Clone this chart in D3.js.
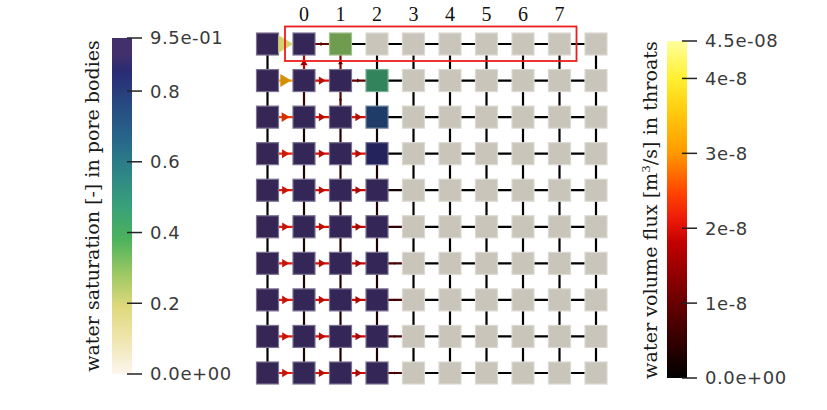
<!DOCTYPE html>
<html>
<head>
<meta charset="utf-8">
<script src="https://cdn.jsdelivr.net/npm/d3@7"></script>
<style>
  body { margin: 0; background: #fff; }
  svg { display: block; }
</style>
</head>
<body>
<svg id="chart" width="827" height="410"></svg>
<script>
/* column labels above the grid (start at column 1) */
var colLabels = ['0', '1', '2', '3', '4', '5', '6', '7'];

/* water saturation in pore bodies, null = not reached */
var saturation = [
    [0.95, 0.90, 0.305, null, null, null, null, null, null, null],
    [0.95, 0.90, 0.90, 0.45, null, null, null, null, null, null],
    [0.95, 0.90, 0.90, 0.76, null, null, null, null, null, null],
    [0.95, 0.90, 0.90, 0.86, null, null, null, null, null, null],
    [0.95, 0.90, 0.90, 0.90, null, null, null, null, null, null],
    [0.95, 0.90, 0.90, 0.90, null, null, null, null, null, null],
    [0.95, 0.90, 0.90, 0.90, null, null, null, null, null, null],
    [0.95, 0.90, 0.90, 0.90, null, null, null, null, null, null],
    [0.95, 0.90, 0.90, 0.90, null, null, null, null, null, null],
    [0.95, 0.90, 0.90, 0.90, null, null, null, null, null, null]
];

/* horizontal throat flux [1e-8 m3/s], left -> right, row x gap */
var fluxH = [
    [4.4, 1.0, 0.0, 0, 0, 0, 0, 0, 0],
    [3.2, 2.0, 1.0, 0, 0, 0, 0, 0, 0],
    [2.4, 2.0, 2.0, 0, 0, 0, 0, 0, 0],
    [2.2, 2.0, 2.0, 0, 0, 0, 0, 0, 0],
    [2.1, 2.0, 1.9, 0.2, 0, 0, 0, 0, 0],
    [2.1, 2.0, 1.9, 0.5, 0, 0, 0, 0, 0],
    [2.1, 2.0, 1.9, 0.7, 0, 0, 0, 0, 0],
    [2.1, 2.0, 1.9, 0.7, 0, 0, 0, 0, 0],
    [2.1, 2.0, 1.9, 0.7, 0, 0, 0, 0, 0],
    [2.1, 2.0, 1.9, 0.7, 0, 0, 0, 0, 0]
];

/* vertical throat flux [1e-8 m3/s], upwards, gap x column */
var fluxV = [
    [0, 1.8, 1.2, 0.0, 0, 0, 0, 0, 0, 0],
    [0, 0.6, 0.8, 0.0, 0, 0, 0, 0, 0, 0],
    [0, 0.3, 0.3, 0.2, 0, 0, 0, 0, 0, 0],
    [0, 0.3, 0.3, 0.3, 0, 0, 0, 0, 0, 0],
    [0, 0.3, 0.3, 0.3, 0, 0, 0, 0, 0, 0],
    [0, 0.3, 0.3, 0.3, 0, 0, 0, 0, 0, 0],
    [0, 0.3, 0.3, 0.3, 0, 0, 0, 0, 0, 0],
    [0, 0.3, 0.3, 0.3, 0, 0, 0, 0, 0, 0],
    [0, 0.3, 0.3, 0.3, 0, 0, 0, 0, 0, 0]
];

/* colour bar ticks */
var satTicks = [0, 0.2, 0.4, 0.6, 0.8, 0.95];
var satTickLabels = ['0.0e+00', '0.2', '0.4', '0.6', '0.8', '9.5e-01'];
var fluxTicks = [0, 1, 2, 3, 4, 4.5];
var fluxTickLabels = ['0.0e+00', '1e-8', '2e-8', '3e-8', '4e-8', '4.5e-08'];

/* colour maps (stop fraction, colour) */
var satStops = [[0, '#fdf6ef'], [0.1, '#efe6b0'], [0.2, '#dfd97c'], [0.3, '#9cc864'],
    [0.4, '#4cb25c'], [0.5, '#38a07a'], [0.6, '#2d8587'], [0.7, '#27668a'],
    [0.8, '#274b82'], [0.9, '#2a2b74'], [0.95, '#42306c']];
var fluxStops = [[0, '#000000'], [0.22, '#660000'], [0.4, '#c20000'], [0.47, '#ec1a0a'],
    [0.55, '#ff4400'], [0.67, '#ff9a00'], [0.8, '#ffcf10'], [0.89, '#fff032'], [1, '#ffff9c']];

var Chart = {
    svg: null,
    emptyColor: '#c9c5ba',
    serif: '"DejaVu Serif", "Liberation Serif", serif',

    init: function() {
        this.svg = d3.select('#chart');
        this.x = d3.scaleLinear().domain([0, 9]).range([267.5, 596]);
        this.y = d3.scaleLinear().domain([0, 9]).range([44, 373]);
        this.satColor = this.makeScale(satStops, 0.95);
        this.fluxColor = this.makeScale(fluxStops, 4.5);
        this.drawThroats();
        this.drawPores();
        this.drawArrows();
        this.drawLabels();
        this.drawColorbar(satStops, 0.95, 112, 38, 374, satTicks, satTickLabels, 'satGrad');
        this.drawColorbar(fluxStops, 4.5, 667, 41, 378, fluxTicks, fluxTickLabels, 'fluxGrad');
        this.drawTitles();
    },

    makeScale: function(stops, max) {
        return d3.scaleLinear()
            .domain(stops.map(s => s[0] * max))
            .range(stops.map(s => s[1]))
            .clamp(true);
    },

    /* list of throats with endpoints and flux */
    throats: function() {
        let list = [];
        fluxH.forEach((row, r) => row.forEach((f, c) => {
            list.push({ r1: r, c1: c, r2: r, c2: c + 1, f: f, dir: 'h' });
        }));
        fluxV.forEach((row, r) => row.forEach((f, c) => {
            list.push({ r1: r + 1, c1: c, r2: r, c2: c, f: f, dir: 'v' });
        }));
        return list;
    },

    drawThroats: function() {
        this.svg.append('g').selectAll('line')
            .data(this.throats())
            .enter().append('line')
            .attr('x1', d => this.x(d.c1))
            .attr('y1', d => this.y(d.r1))
            .attr('x2', d => this.x(d.c2))
            .attr('y2', d => this.y(d.r2))
            .attr('stroke', d => this.fluxColor(d.f))
            .attr('stroke-width', 2.2);
    },

    drawPores: function() {
        let cells = [];
        saturation.forEach((row, r) => row.forEach((s, c) => cells.push({ r: r, c: c, s: s })));
        let size = 22;
        this.svg.append('g').selectAll('rect')
            .data(cells)
            .enter().append('rect')
            .attr('x', d => this.x(d.c) - size / 2)
            .attr('y', d => this.y(d.r) - size / 2)
            .attr('width', size)
            .attr('height', size)
            .attr('fill', d => this.poreFill(d.s))
            .attr('stroke', d => d3.interpolateRgb(this.poreFill(d.s), '#ffffff')(0.35))
            .attr('stroke-width', 1.2);
    },

    poreFill: function(s) {
        if (s === null) return this.emptyColor;
        return d3.interpolateRgb(this.satColor(s), '#000000')(0.2);
    },

    /* triangle glyphs centred on the throat, size grows with flux */
    drawArrows: function() {
        let data = this.throats().filter(d => d.f >= 0.5);
        this.svg.append('g').selectAll('path')
            .data(data)
            .enter().append('path')
            .attr('d', d => {
                let L = 3.4 * d.f, W = L * 0.6;
                return 'M' + (L / 2) + ',0L' + (-L / 2) + ',' + (-W) + 'L' + (-L / 2) + ',' + W + 'Z';
            })
            .attr('transform', d => {
                let cx = (this.x(d.c1) + this.x(d.c2)) / 2;
                let cy = (this.y(d.r1) + this.y(d.r2)) / 2;
                return 'translate(' + cx + ',' + cy + ') rotate(' + (d.dir == 'h' ? 0 : -90) + ')';
            })
            .attr('fill', d => d3.color(this.fluxColor(d.f)).darker(0.5));
    },

    drawLabels: function() {
        this.svg.append('g').selectAll('text')
            .data(colLabels)
            .enter().append('text')
            .attr('x', (d, i) => this.x(i + 1))
            .attr('y', 21)
            .attr('text-anchor', 'middle')
            .attr('font-family', '"Liberation Serif", "DejaVu Serif", serif')
            .attr('font-size', 20)
            .attr('fill', '#111')
            .text(d => d);

        /* red box round the top row */
        this.svg.append('rect')
            .attr('x', 285).attr('y', 26.5)
            .attr('width', 291.5).attr('height', 34.5)
            .attr('fill', 'none')
            .attr('stroke', '#ee1c1c')
            .attr('stroke-width', 1.8);
    },

    drawColorbar: function(stops, max, x0, yTop, yBot, ticks, labels, id) {
        let grad = this.svg.append('defs').append('linearGradient')
            .attr('id', id)
            .attr('x1', 0).attr('y1', 1).attr('x2', 0).attr('y2', 0);
        grad.selectAll('stop').data(stops).enter().append('stop')
            .attr('offset', d => d[0])
            .attr('stop-color', d => d[1]);

        let scale = d3.scaleLinear().domain([0, max]).range([yBot, yTop]);
        this.svg.append('rect')
            .attr('x', x0).attr('y', yTop)
            .attr('width', 20).attr('height', yBot - yTop)
            .attr('fill', 'url(#' + id + ')');

        let g = this.svg.append('g');
        g.selectAll('line').data(ticks).enter().append('line')
            .attr('x1', x0 + 15).attr('x2', x0 + 30)
            .attr('y1', d => scale(d)).attr('y2', d => scale(d))
            .attr('stroke', '#222').attr('stroke-width', 1.5);
        g.selectAll('text').data(ticks).enter().append('text')
            .attr('x', x0 + 38)
            .attr('y', d => scale(d))
            .attr('dy', '0.36em')
            .attr('font-family', '"DejaVu Sans", sans-serif')
            .attr('font-size', 18)
            .attr('letter-spacing', 0.6)
            .attr('fill', '#3a3a3a')
            .text((d, i) => labels[i]);
    },

    /* shrink / grow a title so that it spans the given length */
    fitText: function(t, len) {
        let w = t.node().getComputedTextLength();
        let fs = parseFloat(t.attr('font-size'));
        t.attr('font-size', fs * len / w);
    },

    drawTitles: function() {
        let t1 = this.svg.append('text')
            .attr('transform', 'translate(99,206) rotate(-90)')
            .attr('text-anchor', 'middle')
            .attr('font-family', this.serif)
            .attr('font-size', 19)
            .attr('fill', '#1a1a1a')
            .text('water saturation [-] in pore bodies');
        this.fitText(t1, 332);

        let t2 = this.svg.append('text')
            .attr('transform', 'translate(657,210) rotate(-90)')
            .attr('text-anchor', 'middle')
            .attr('font-family', this.serif)
            .attr('font-size', 19)
            .attr('fill', '#1a1a1a');
        t2.append('tspan').text('water volume flux [m');
        t2.append('tspan').attr('dy', -7).attr('font-size', '0.62em').text('3');
        t2.append('tspan').attr('dy', 7).text('/s] in throats');
        this.fitText(t2, 338);
    }
};

Chart.init();
</script>
</body>
</html>
